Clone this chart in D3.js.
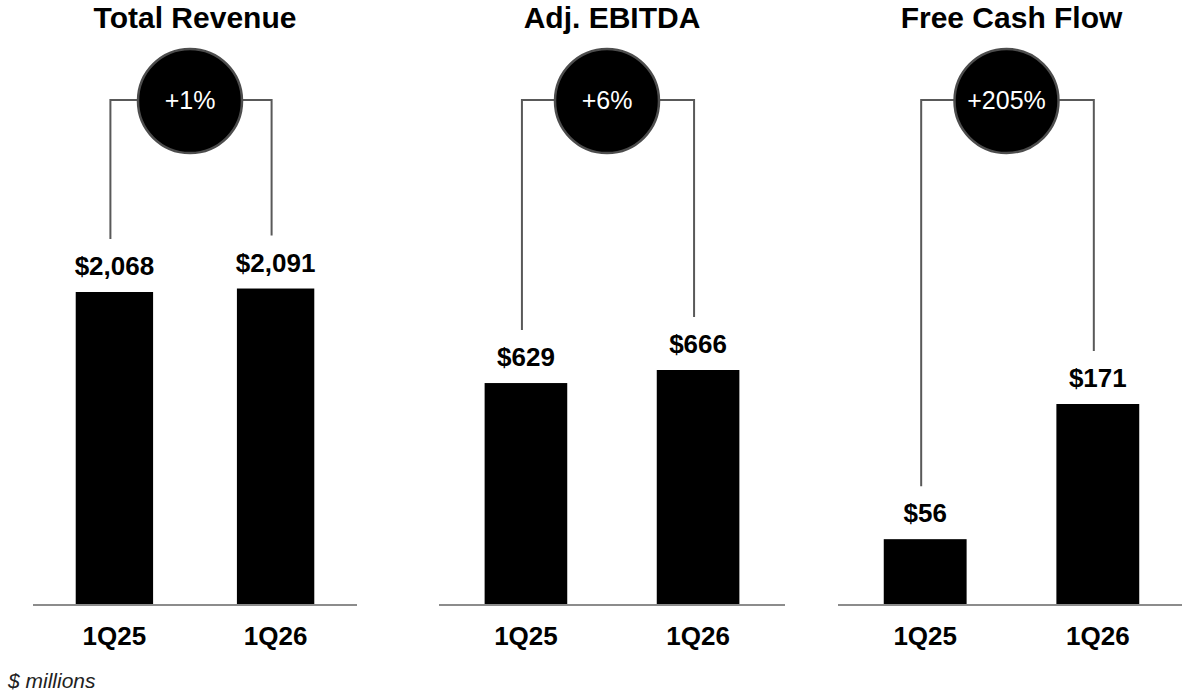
<!DOCTYPE html>
<html>
<head>
<meta charset="utf-8">
<script src="https://cdn.jsdelivr.net/npm/d3@7"></script>
<style>
  body { margin: 0; background: #fff; }
  text { font-family: "Liberation Sans", Arial, sans-serif; }
</style>
</head>
<body>
<svg width="1182" height="694"></svg>
<script>
    // Data
    const titles = ["Total Revenue", "Adj. EBITDA", "Free Cash Flow"];
    const periods = ["1Q25", "1Q26"];
    const revenue = [2068, 2091];
    const ebitda = [629, 666];
    const fcf = [56, 171];
    const growth = ["+1%", "+6%", "+205%"];
    const footnote = "$ millions";

    const series = [revenue, ebitda, fcf];

    const svg = d3.select("svg");
    const baseY = 605;

    // each panel: horizontal extent, and the pixel height the tallest bar takes
    const panels = [
      {x0: 33, x1: 357, yMax: 2068 * 605 / 313},
      {x0: 439, x1: 785, yMax: 666 * 605 / 235},
      {x0: 838, x1: 1185, yMax: 171 * 605 / 201}
    ];

    panels.forEach((p, i) => {
      const values = series[i];
      const data = periods.map((c, j) => ({period: c, value: values[j]}));

      const x = d3.scaleBand()
        .domain(periods)
        .range([p.x0, p.x1])
        .paddingInner(0.52)
        .paddingOuter(0.265);

      const y = d3.scaleLinear()
        .domain([0, p.yMax])
        .range([baseY, 0]);

      const g = svg.append("g");
      const mid = (x(periods[0]) + x(periods[1]) + x.bandwidth()) / 2;
      const circX = mid - 5;

      // title
      g.append("text")
        .attr("x", mid)
        .attr("y", 28)
        .attr("text-anchor", "middle")
        .style("font-size", "30px")
        .style("font-weight", "bold")
        .text(titles[i]);

      // connector lines
      const lineY = 100;
      data.forEach(d => {
        const lx = x(d.period) + x.bandwidth() / 2 - 4;
        g.append("path")
          .attr("d", `M${lx},${y(d.value) - 53}V${lineY}H${circX}`)
          .attr("fill", "none")
          .attr("stroke", "#595959")
          .attr("stroke-width", 2);
      });

      // growth circle
      g.append("circle")
        .attr("cx", circX)
        .attr("cy", 101)
        .attr("r", 52)
        .attr("fill", "#000")
        .attr("stroke", "#4d4d4d")
        .attr("stroke-width", 2.5);

      g.append("text")
        .attr("x", circX)
        .attr("y", 109)
        .attr("text-anchor", "middle")
        .attr("fill", "#fff")
        .style("font-size", "25px")
        .text(growth[i]);

      // bars
      g.selectAll(".bar")
        .data(data)
        .enter().append("rect")
        .attr("class", "bar")
        .attr("x", d => x(d.period))
        .attr("width", x.bandwidth())
        .attr("y", d => y(d.value))
        .attr("height", d => baseY - y(d.value))
        .attr("fill", "#000");

      // value labels
      g.selectAll(".val")
        .data(data)
        .enter().append("text")
        .attr("class", "val")
        .attr("x", d => x(d.period) + x.bandwidth() / 2)
        .attr("y", d => y(d.value) - 17)
        .attr("text-anchor", "middle")
        .style("font-size", "26px")
        .style("font-weight", "bold")
        .text(d => "$" + d3.format(",")(d.value));

      // baseline
      g.append("line")
        .attr("x1", p.x0)
        .attr("x2", p.x1)
        .attr("y1", baseY)
        .attr("y2", baseY)
        .attr("stroke", "#8c8c8c")
        .attr("stroke-width", 2);

      // category labels
      g.selectAll(".cat")
        .data(data)
        .enter().append("text")
        .attr("class", "cat")
        .attr("x", d => x(d.period) + x.bandwidth() / 2)
        .attr("y", 645)
        .attr("text-anchor", "middle")
        .style("font-size", "26px")
        .style("font-weight", "bold")
        .text(d => d.period);
    });

    // footnote
    svg.append("text")
      .attr("x", 8)
      .attr("y", 688)
      .style("font-size", "21px")
      .style("font-style", "italic")
      .attr("fill", "#222")
      .text(footnote);
</script>
</body>
</html>
